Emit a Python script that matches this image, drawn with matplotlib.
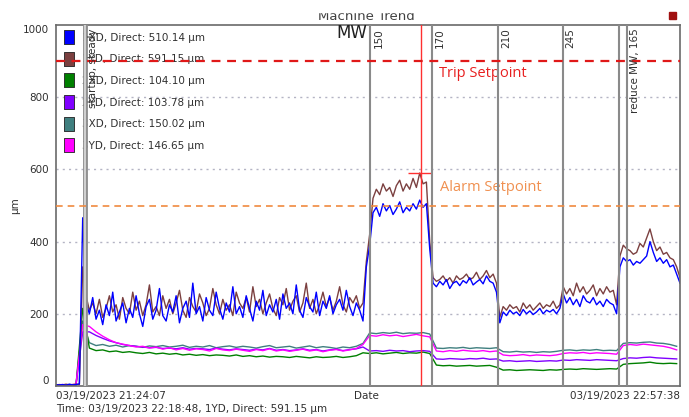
import numpy as np
import matplotlib.pyplot as plt
from matplotlib.lines import Line2D
from matplotlib.patches import Rectangle

# minutes after 03/19/2023 21:24:07, trend ends at 22:57:38
t_end = 93.5
cursor_t = 54.68      # 22:18:48
cursor_val = 591.15

# 1XD / 1YD sampled every 0.5 min
x1_probe = [3, 3, 4, 2, 5, 3, 4, 6,
            466, 230,
            200, 245, 185, 210, 170, 225, 195, 260, 180, 205,
            230, 175, 215, 190, 250, 200, 165, 220, 240, 185,
            210, 270, 195, 180, 225, 205, 250, 175, 215, 235,
            190, 285, 200, 220, 180, 245, 210, 195, 260, 215,
            185, 230, 205, 275, 200, 220, 190, 250, 215, 180,
            235, 210, 265, 195, 225, 205, 240, 185, 255, 215,
            230, 200, 280, 210, 190, 245, 220, 205, 260, 195,
            235, 215, 250, 200, 225, 240, 210, 265, 220, 195,
            230, 210,
            180, 330, 390,
            480, 495, 470, 505, 485, 500, 475, 490, 510, 480, 495, 485, 505, 490, 515, 495, 505,
            380,
            285, 275, 290, 280, 295, 270, 285, 290, 278, 292, 285, 300, 280, 288, 295, 283, 305, 290, 285,
            260, 175,
            205, 195, 210, 200, 205, 195, 212, 200, 208, 198, 205, 215, 200, 210, 205, 212, 200, 215,
            255, 230, 245, 225, 240, 220, 250, 235, 230, 245, 225, 235, 220, 240, 230, 225,
            200, 330,
            355, 345, 350, 335, 345, 340, 350, 360, 400, 370, 345, 355, 340, 350, 330, 335, 310, 285]

y1_probe = [3, 4, 3, 5, 3, 4, 5, 4,
            330, 250,
            210, 230, 200, 240, 190, 215, 250, 205, 225, 185,
            245, 215, 200, 260, 210, 235, 195, 225, 280, 205,
            220, 195, 250, 215, 240, 200, 230, 265, 210, 190,
            245, 220, 205, 255, 230, 195, 215, 270, 225, 200,
            240, 210, 225, 195, 260, 230, 215, 245, 205, 275,
            220, 240, 200, 230, 255, 215, 195, 245, 225, 270,
            210, 235, 250, 205, 230, 285, 215, 240, 200, 225,
            260, 220, 245, 210, 235, 275, 225, 205, 245, 230,
            250, 215,
            230, 345, 420,
            520, 545, 530, 560, 540, 550, 525, 555, 570, 540, 560, 545, 575, 550, 590, 560, 565,
            400,
            300, 290, 295, 305, 290, 300, 285, 305, 295, 300, 310, 295, 300, 315, 295, 305, 320, 300, 310,
            285, 190,
            220, 210, 225, 215, 220, 205, 230, 215, 225, 210, 220, 230, 215, 225, 220, 235, 215, 225,
            275, 255, 270, 250, 285, 260, 275, 255, 265, 280, 250, 270, 255, 275, 260, 265,
            225, 360,
            390, 380, 375, 365, 370, 395, 385, 410, 435, 400, 375, 385, 365, 370, 355, 350, 330, 300]

# 2XD, 2YD, 3XD, 3YD sampled every 1 min
x2_probe = [2, 2, 3, 2, 215,
            105, 98, 100, 95, 97, 93, 95, 92, 90, 93, 89, 91, 88, 90, 86, 88, 85, 87, 84, 86, 85,
            83, 86, 82, 84, 81, 83, 80, 82, 81, 79, 82, 80, 78, 81, 79, 80, 82, 79, 81, 84, 92,
            90, 92, 89, 91, 93, 90, 92, 91, 94, 90,
            58, 56, 57, 55, 56, 57, 55, 56, 57, 52,
            44, 45, 43, 44, 45, 44, 43, 45, 44,
            46, 47, 46, 48, 47, 46, 47, 48, 47,
            60, 62, 63, 64, 66, 63, 62, 63, 62]

y2_probe = [2, 3, 2, 3, 150,
            150, 140, 132, 125, 120, 115, 112, 110, 108, 106, 107, 104, 105, 103, 106, 102, 104,
            103, 101, 105, 102, 100, 103, 101, 99, 102, 100, 104, 99, 101, 98, 100, 103, 99, 101,
            97, 100, 102, 98, 101, 103, 108,
            97, 98, 96, 99, 97, 98, 95, 97, 98, 96,
            75, 74, 76, 75, 74, 76, 75, 77, 74, 75,
            69, 70, 68, 69, 70, 68, 69, 70, 69,
            72, 71, 73, 72, 71, 73, 72, 71, 70,
            76, 78, 77, 79, 80, 78, 77, 76, 75]

x3_probe = [3, 3, 4, 3, 180,
            120, 112, 115, 110, 113, 108, 112, 110, 107, 111, 109, 112, 108, 110, 113, 107, 110,
            108, 112, 106, 109, 111, 107, 110, 108, 105, 109, 112, 106, 108, 110, 105, 108, 111,
            106, 109, 107, 104, 108, 106, 110, 118,
            147, 145, 148, 146, 149, 145, 147, 146, 148, 144,
            105, 104, 106, 105, 107, 104, 106, 105, 104, 106,
            95, 94, 96, 94, 95, 93, 95, 94, 96,
            99, 100, 98, 100, 99, 101, 98, 99, 98,
            118, 120, 119, 121, 122, 119, 118, 115, 110]

y3_probe = [3, 4, 3, 5, 170,
            165, 150, 138, 128, 120, 116, 112, 108, 110, 105, 108, 102, 106, 100, 104, 99, 103,
            101, 97, 104, 100, 98, 102, 99, 96, 101, 98, 103, 97, 100, 96, 99, 102, 97, 100, 95,
            99, 101, 97, 100, 104, 115,
            140, 138, 142, 139, 141, 137, 140, 143, 139, 136,
            97, 95, 98, 96, 99, 97, 96, 98, 95, 97,
            86, 84, 85, 87, 84, 86, 85, 84, 86,
            90, 92, 91, 93, 90, 92, 91, 90, 88,
            112, 115, 113, 116, 114, 112, 110, 106, 100]

legend_labels = ['1XD, Direct: 510.14 µm', '1YD, Direct: 591.15 µm', '2XD, Direct: 104.10 µm',
                 '2YD, Direct: 103.78 µm', '3XD, Direct: 150.02 µm', '3YD, Direct: 146.65 µm']
colors = ['#0000ff', '#7b4040', '#008000', '#8000ff', '#3f7f7f', '#ff00ff']

event_t = [4.35, 47.1, 56.35, 66.3, 75.9, 84.4, 85.6]
event_labels = ['startup, steady', '150', '170', '210', '245', '', 'reduce MW, 165']

trip = 900
alarm = 500

# tall legend swatch
swatch = [(-0.65, -1), (0.65, -1), (0.65, 1), (-0.65, 1), (-0.65, -1)]


def main():
    t_fine = np.arange(len(x1_probe)) * 0.5
    t_coarse = np.arange(len(x2_probe)) * 1.0

    fig = plt.figure(figsize=(6.89, 4.17), dpi=100)
    ax = fig.add_axes([56/689, 1-386/417, 624/689, 361/417])

    for v in [200, 400, 600, 800]:
        ax.axhline(v, color='#b4b4c4', lw=1, ls=(0, (1.5, 3)), zorder=1)

    ax.plot(t_coarse, x3_probe, color=colors[4], lw=1, zorder=2)
    ax.plot(t_coarse, x2_probe, color=colors[2], lw=1, zorder=2)
    ax.plot(t_coarse, y2_probe, color=colors[3], lw=1, zorder=2)
    ax.plot(t_coarse, y3_probe, color=colors[5], lw=1, zorder=2)
    ax.plot(t_fine, y1_probe, color=colors[1], lw=1, zorder=2)
    ax.plot(t_fine, x1_probe, color=colors[0], lw=1, zorder=2)

    # event markers
    for i, (t, lab) in enumerate(zip(event_t, event_labels)):
        if i == 0:
            ax.axvline(t, color='#909090', lw=3.5, zorder=6)
            ax.axvline(t, color='#d8d8d8', lw=1.3, zorder=6)
        else:
            ax.axvline(t, color='#8a8a8a', lw=1.5, zorder=6)
        if lab:
            ax.text(t + 0.45, 990, lab, rotation=90, ha='left', va='top',
                    fontsize=7.5, color='#303030', zorder=7)
    ax.text(46.6, 978, 'MW', ha='right', va='center', fontsize=12, color='#202020')

    ax.axhline(trip, color='#e01818', lw=1.6, ls=(0, (4, 3)), zorder=6)
    ax.axhline(alarm, color='#f08a40', lw=1.2, ls=(0, (4, 3)), zorder=6)
    ax.text(57.4, trip - 33, 'Trip Setpoint', color='#e82020', fontsize=10.5,
            family='Open Sans', va='center', ha='left')
    ax.text(57.5, alarm + 49, 'Alarm Setpoint', color='#f09050', fontsize=10.5,
            family='Open Sans', va='center', ha='left')

    # cursor
    ax.axvline(cursor_t, color='#ff3030', lw=1, zorder=5)
    ax.hlines(cursor_val, cursor_t - 1.9, cursor_t + 1.7, color='#ff3030', lw=1, zorder=5)

    handles = [Line2D([], [], ls='none', marker=swatch, markersize=10, markerfacecolor=c,
                      markeredgecolor='#202020', markeredgewidth=0.6) for c in colors]
    leg = ax.legend(handles, legend_labels, loc='upper left', bbox_to_anchor=(0.0, 1.0),
                    frameon=False, fontsize=7.5, labelspacing=1.12, handlelength=0.9,
                    handletextpad=0.8, borderaxespad=0.35, labelcolor='#303030')
    leg.set_zorder(1)

    ax.set_xlim(0, t_end)
    ax.set_ylim(0, 1000)
    ax.set_yticks([0, 200, 400, 600, 800, 1000])
    ax.tick_params(axis='y', length=0, labelsize=7.5, labelcolor='#303030', pad=5)
    ax.set_xticks([])
    ylabs = ax.get_yticklabels()
    ylabs[0].set_verticalalignment('bottom')
    ylabs[-1].set_verticalalignment('top')
    for s in ax.spines.values():
        s.set_color('#6a6a6a')
        s.set_linewidth(1.2)
    ax.set_ylabel('µm', fontsize=7.5, color='#303030')
    ax.yaxis.set_label_coords(-36/624, 0.5)

    fig.text(56/689, 1-396/417, '03/19/2023 21:24:07', fontsize=7.5, color='#303030',
             ha='left', va='center')
    fig.text(366/689, 1-396/417, 'Date', fontsize=7.5, color='#303030', ha='center', va='center')
    fig.text(680/689, 1-396/417, '03/19/2023 22:57:38', fontsize=7.5, color='#303030',
             ha='right', va='center')
    fig.text(56/689, 1-409/417, 'Time: 03/19/2023 22:18:48, 1YD, Direct: 591.15 µm',
             fontsize=7.5, color='#303030', ha='left', va='center')

    fig.text(366/689, 1-20/417, 'Machine Trend', fontsize=9.5, color='#404040',
             ha='center', va='baseline')
    fig.add_artist(Rectangle((0, 1-12/417), 1, 12/417, transform=fig.transFigure,
                             color='white', zorder=10))
    fig.add_artist(Rectangle((669/689, 1-19/417), 7/689, 7/417, transform=fig.transFigure,
                             color='#a01010', zorder=11))

    fig.savefig('out.png', dpi=100)


if __name__ == "__main__":
    main()
